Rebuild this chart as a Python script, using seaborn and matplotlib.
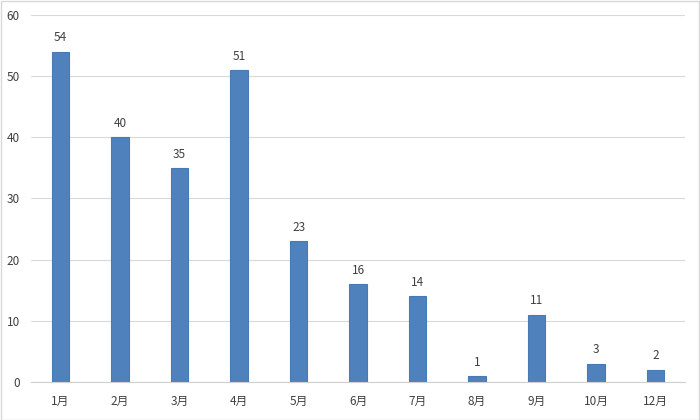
import pandas as pd
import matplotlib
matplotlib.use("Agg")
import matplotlib.pyplot as plt
import seaborn as sns
from matplotlib.patches import Rectangle

months = ['1月', '2月', '3月', '4月', '5月', '6月', '7月', '8月', '9月', '10月', '12月']
counts = [54, 40, 35, 51, 23, 16, 14, 1, 11, 3, 2]

df = pd.DataFrame({'month': months, 'count': counts})

sns.set_style("white")
plt.rcParams['font.family'] = ['Noto Sans CJK SC', 'DejaVu Sans']
text_color = '#404040'

fig = plt.figure(figsize=(7, 4.2), dpi=100)
ax = fig.add_axes([0.044, 0.0905, 0.935, 0.874])

sns.barplot(data=df, x='month', y='count', color='#4F81BD', width=0.3,
            edgecolor='#4A7AB4', linewidth=0.8, saturation=1, ax=ax)

for i, v in enumerate(counts):
    ax.text(i, v + 1.2, str(v), ha='center', va='bottom', fontsize=8.5, color=text_color)

ax.set_ylim(0, 60)
ax.set_yticks(range(0, 61, 10))
ax.yaxis.grid(True, color='#D9D9D9', linewidth=0.8)
ax.set_axisbelow(True)
ax.set_xlabel('')
ax.set_ylabel('')
for s in ['top', 'right', 'left']:
    ax.spines[s].set_visible(False)
ax.spines['bottom'].set_color('#D0D0D0')
ax.tick_params(axis='both', length=0, labelsize=8.5, colors=text_color)
ax.tick_params(axis='x', pad=9)
ax.tick_params(axis='y', pad=8)

fig.patches.append(Rectangle((0.001, 0.001), 0.997, 0.997, transform=fig.transFigure,
                             fill=False, edgecolor='#D9D9D9', linewidth=1))

fig.savefig('out.png', dpi=100)
